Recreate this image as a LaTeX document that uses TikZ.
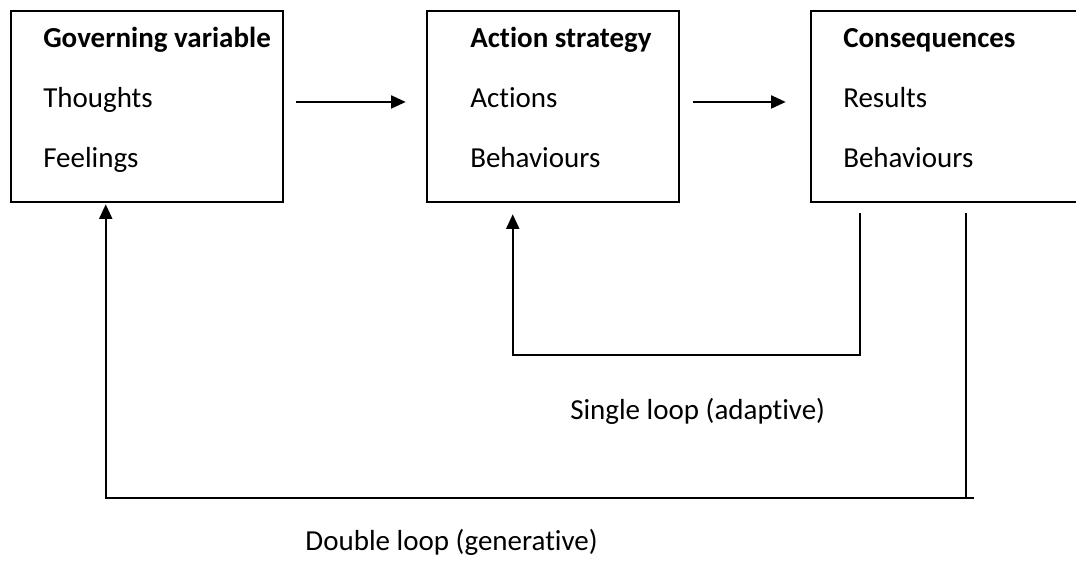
\documentclass[tikz,border=0pt]{standalone}
\usepackage{fontspec}
\setmainfont{Carlito}[Ligatures=NoCommon]
\usetikzlibrary{arrows.meta}
\begin{document}
\begin{tikzpicture}[x=0.75pt,y=0.75pt,
  box/.style={draw=black,line width=1.9pt,rectangle,inner sep=0pt},
  txt/.style={anchor=base west,inner sep=0pt,font=\fontsize{21.75pt}{26pt}\selectfont},
  btxt/.style={txt,font=\fontsize{21.75pt}{26pt}\selectfont\bfseries},
  conn/.style={line width=1.5pt,line cap=butt},
  arr/.style={conn,-{Triangle[length=11pt,width=9.75pt]}}]
\useasboundingbox (0,0) rectangle (1076,-564);
% boxes
\node[box,minimum width=204pt,minimum height=143.25pt] (g) at (147,-106.5) {};
\node[box,minimum width=189pt,minimum height=143.25pt] (a) at (553,-106.5) {};
\node[box,minimum width=209.25pt,minimum height=143.25pt] (c) at (950.5,-106.5) {};
% texts
\node[btxt] (g1) at (43,-47) {Governing variable};
\node[txt] (g2) at (43,-107) {Thoughts};
\node[txt] (g3) at (43,-167) {Feelings};
\node[btxt] (a1) at (470,-47) {Action strategy};
\node[txt] (a2) at (470,-107) {Actions};
\node[txt] (a3) at (470,-167) {Behaviours};
\node[btxt] (c1) at (843,-47) {Consequences};
\node[txt] (c2) at (843,-107) {Results};
\node[txt] (c3) at (843,-167) {Behaviours};
% forward arrows
\draw[arr] ([xshift=9pt,yshift=3.4pt]g.east) -- ([xshift=-15pt,yshift=3.4pt]a.west);
\draw[arr] ([xshift=9.75pt,yshift=3.4pt]a.east) -- ([xshift=-18pt,yshift=3.4pt]c.west);
% single loop
\coordinate (sy) at (0,-355);
\draw[arr] ([xshift=37.5pt,yshift=-7.5pt]c.south west) coordinate (s0)
  -- (s0 |- sy) -| ([xshift=65.25pt,yshift=-8.25pt]a.south west);
% double loop
\coordinate (dy) at (0,-498);
\draw[conn] ([xshift=117pt,yshift=-7.5pt]c.south west) coordinate (d0) -- (d0 |- dy);
\draw[arr] ([xshift=6pt]d0 |- dy) -| ([xshift=72pt,yshift=-0.75pt]g.south west);
% labels
\node[txt] (sl) at (570,-419) {Single loop (adaptive)};
\node[txt,anchor=base east] (dl) at (598,-550) {Double loop (generative)};
\end{tikzpicture}
\end{document}
